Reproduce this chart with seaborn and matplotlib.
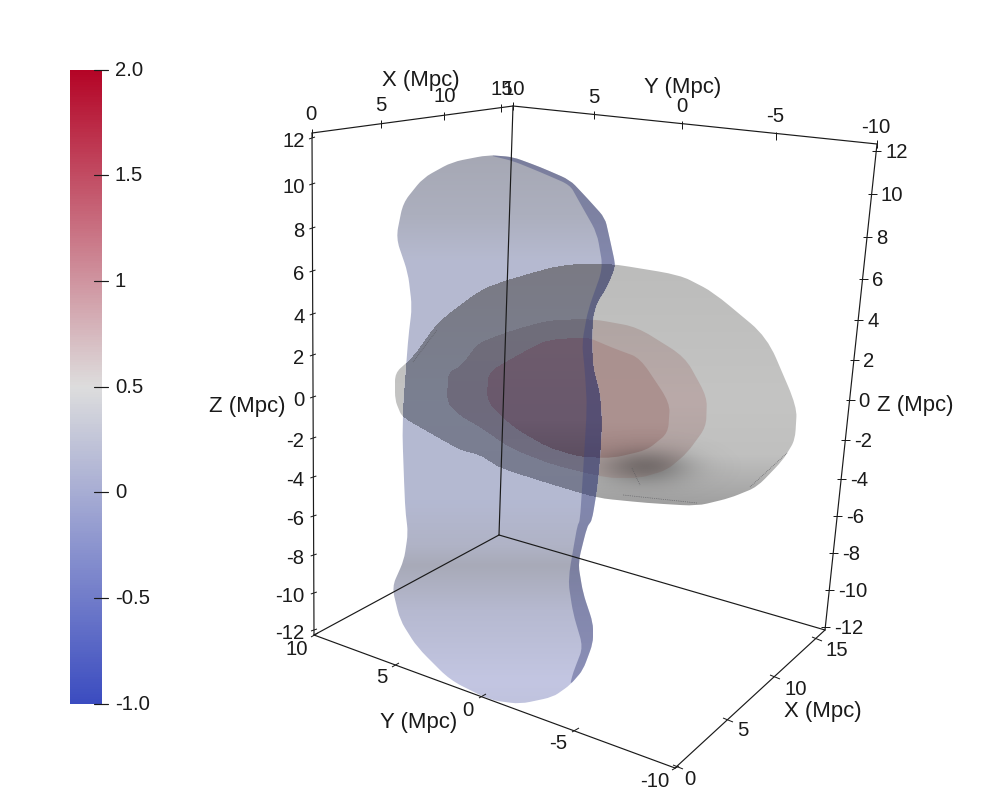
import numpy as np
import pandas as pd
import matplotlib
matplotlib.use("Agg")
import matplotlib.pyplot as plt
from matplotlib.colors import LinearSegmentedColormap
from matplotlib.patches import PathPatch
from matplotlib.path import Path
import seaborn as sns

W, H = 989, 793

# ---- data (pixel positions of the projected scene) ----
sheet_outline = [(488,155),(513,157),(540,167),(570,180),(587,198),(605,218),(610,240),(615,263),(614,270),(607,287),(597,303),(593,317),(592,340),(593,367),(600,393),(602,423),(600,460),(597,490),(592,520),(587,527),(578,563),(583,593),(593,623),(593,643),(583,670),(570,685),(553,697),(520,704),(490,700),(450,680),(417,647),(400,620),(392,587),(404,560),(408,533),(405,507),(402,423),(408,340),(412,307),(408,273),(396,238),(403,203),(423,178),(452,162)]
sheet_rim = [(488,155),(513,157),(540,167),(570,180),(587,198),(605,218),(610,240),(615,263),(614,270),(607,287),(597,303),(593,317),(592,340),(593,367),(600,393),(602,423),(600,460),(597,490),(592,520),(587,527),(578,563),(583,593),(593,623),(593,643),(583,670),(570,685),(573,673),(583,647),(573,613),(568,580),(577,527),(580,520),(583,473),(587,407),(585,373),(582,343),(588,310),(603,268),(597,233),(580,203),(570,185),(540,172),(513,161)]
blob_outer = [(395,373),(413,357),(438,322),(480,290),(507,280),(560,265),(607,263),(680,275),(713,292),(767,337),(797,407),(795,440),(783,460),(757,487),(730,498),(697,506),(647,503),(597,498),(547,483),(500,468),(480,455),(460,450),(430,433),(402,417),(395,400)]
blob_middle = [(448,373),(462,365),(478,343),(513,330),(550,320),(593,319),(637,327),(685,357),(707,397),(706,427),(687,453),(667,470),(640,478),(607,478),(553,465),(510,448),(480,427),(462,417),(447,403)]
blob_inner = [(488,372),(527,350),(547,340),(587,337),(613,348),(640,358),(670,403),(668,433),(647,450),(613,458),(580,457),(547,447),(513,427),(487,402)]
seam_lines = [[(413,362),(437,330)], [(623,495),(697,503)], [(750,487),(787,453)], [(632,468),(640,485)]]

box_edges = {
    "top_x": [(312,133),(513,106)], "top_y": [(513,106),(877,144)],
    "back": [(513,106),(499,535)], "left": [(312,133),(314,635)],
    "right": [(877,144),(825,630)], "floor_a": [(314,635),(499,535)],
    "floor_b": [(499,535),(825,630)], "front_y": [(314,635),(675,768)],
    "front_x": [(675,768),(825,630)],
}

top_x_labels = ["0", "5", "10", "15"]
top_x_ticks = [(312,133),(381,124),(444,116),(501,108)]
top_x_text = [(311,113),(381,104),(445,95),(502,88)]
top_y_labels = ["10", "5", "0", "-5", "-10"]
top_y_ticks = [(513,106),(594,115),(682,125),(776,136),(877,144)]
top_y_text = [(514,88),(594,96),(682,105),(775,115),(876,126)]

z_labels = ["12","10","8","6","4","2","0","-2","-4","-6","-8","-10","-12"]
z_left_y = [138,184,228,271,314,355,397,438,477,516,555,593,630]
z_right_y = [151,194,237,279,320,360,400,440,479,516,553,590,627]

bottom_y_labels = ["10", "5", "0", "-5", "-10"]
bottom_y_ticks = [(314,635),(395,665),(482,696),(575,730),(675,768)]
bottom_y_text = [(297,648),(382,676),(468,709),(558,742),(655,780)]
bottom_x_labels = ["0", "5", "10", "15"]
bottom_x_ticks = [(678,767),(728,720),(775,677),(817,639)]
bottom_x_text = [(690,778),(743,729),(796,688),(837,649)]

axis_titles = [("X (Mpc)",421,79),("Y (Mpc)",683,86),("Z (Mpc)",247,405),
               ("Z (Mpc)",915,404),("Y (Mpc)",419,721),("X (Mpc)",823,710)]

cbar_labels = ["2.0", "1.5", "1", "0.5", "0", "-0.5", "-1.0"]
cbar_y = [70, 175, 281, 387, 492, 598, 704]
cool_warm = [(59,76,192), (221,221,221), (180,4,38)]

# ---- look ----
sns.set_theme(style="white")
plt.rcParams["font.family"] = ["Liberation Sans", "DejaVu Sans"]
FS = 14.6
FS_TITLE = 15.9
INK = "#1a1a1a"
LW = 0.85
TEXT_DY = 1.5

fig = plt.figure(figsize=(W/100, H/100), dpi=100, facecolor="white")

# colour bar through seaborn's heatmap
cax = fig.add_axes([70/W, 1-704/H, 32/W, 634/H])
scale = np.linspace(2, -1, 256).reshape(-1, 1)
cmap = LinearSegmentedColormap.from_list("cw", [tuple(v/255 for v in c) for c in cool_warm])
sns.heatmap(scale, ax=cax, cmap=cmap, vmin=-1, vmax=2, cbar=False, xticklabels=False, yticklabels=False)

ax = fig.add_axes([0, 0, 1, 1])
ax.patch.set_alpha(0)
ax.axis("off")


def rgb(c):
    return tuple(v/255 for v in c)


def smooth(outline, t=0.3):
    """Closed outline with its corners rounded off, so surface edges stay close to the read points."""
    p = np.asarray(outline, float)
    prev, nxt = np.roll(p, 1, axis=0), np.roll(p, -1, axis=0)
    before = p - t*(p-prev)
    after = p + t*(nxt-p)
    verts = [after[-1]]
    codes = [Path.MOVETO]
    for i in range(len(p)):
        verts += [before[i], p[i], after[i]]
        codes += [Path.LINETO, Path.CURVE3, Path.CURVE3]
    return Path(np.array(verts), codes)


def clip_to(im, outline):
    im.set_clip_path(PathPatch(smooth(outline), transform=ax.transData))


def ramp(stops):
    ys, cols = zip(*stops)
    return np.stack([np.interp(np.arange(H), ys, [c[i] for c in cols]) for i in range(3)], axis=1)/255


def shaded(outline, stops, z):
    img = ramp(stops)[:, None, :]
    im = ax.imshow(img, extent=(0, W, H, 0), aspect="auto", zorder=z, interpolation="bilinear")
    clip_to(im, outline)


def soft_patch(outline, cx, cy, rx, ry, col, strength, z):
    yy, xx = np.mgrid[0:H:2, 0:W:2]
    a = strength*np.exp(-((xx-cx)/rx)**2-((yy-cy)/ry)**2)
    img = np.zeros(a.shape+(4,))
    img[..., :3] = rgb(col)
    img[..., 3] = a
    im = ax.imshow(img, extent=(0, W, H, 0), aspect="auto", zorder=z)
    clip_to(im, outline)


yy_px, xx_px = np.mgrid[0:H, 0:W]
pixels = np.c_[xx_px.ravel()+.5, yy_px.ravel()+.5]
sheet_mask = smooth(sheet_outline).contains_points(pixels).reshape(H, W)


def through(outline, stops, z):
    """A blob as it looks behind the sheet: cut to both outlines."""
    rgba = np.zeros((H, W, 4))
    rgba[..., :3] = ramp(stops)[:, None, :]
    rgba[..., 3] = smooth(outline).contains_points(pixels).reshape(H, W) & sheet_mask
    ax.imshow(rgba, extent=(0, W, H, 0), aspect="auto", zorder=z, interpolation="bilinear")


# blobs seen directly
shaded(blob_outer, [(263,(188,188,187)),(400,(196,196,195)),(455,(192,192,191)),(506,(158,158,158))], 1)
shaded(blob_middle, [(320,(176,165,163)),(400,(186,170,169)),(478,(172,160,158))], 2)
shaded(blob_inner, [(337,(170,145,143)),(420,(172,146,144)),(458,(160,132,130))], 3)
soft_patch(blob_outer, 645, 466, 44, 17, (50,48,48), 0.46, 3.5)

# sheet, opaque with its own shading
shaded(sheet_outline, [(155,(166,168,180)),(215,(172,175,190)),(260,(182,186,208)),(500,(180,185,210)),
                       (545,(176,179,198)),(565,(168,170,184)),(610,(182,185,208)),(680,(195,198,226)),(704,(192,195,222))], 4)

# blobs seen through the sheet
through(blob_outer, [(263,(122,122,132)),(400,(122,128,145)),(450,(122,126,146)),(500,(120,124,145))], 5)
through(blob_middle, [(320,(112,110,122)),(400,(110,106,124)),(478,(112,110,130))], 6)
through(blob_inner, [(337,(110,92,108)),(420,(105,88,108)),(458,(92,78,96))], 7)

# darker rim of the sheet
ax.add_patch(PathPatch(smooth(sheet_rim), facecolor=rgb((62,68,125)), alpha=0.42, edgecolor="none", zorder=8))

# faint seams in the surfaces
for seam in seam_lines:
    frame = pd.DataFrame(seam, columns=["x", "y"])
    sns.lineplot(data=frame, x="x", y="y", ax=ax, sort=False, estimator=None, color="#55555a", lw=0.5, ls=":", zorder=8.5)

# box edges and ticks
for name, pts in box_edges.items():
    frame = pd.DataFrame(pts, columns=["x", "y"])
    sns.lineplot(data=frame, x="x", y="y", ax=ax, sort=False, estimator=None, color=INK, lw=LW, zorder=9)


def tick(x0, y0, x1, y1):
    ax.plot([x0, x1], [y0, y1], color=INK, lw=LW*0.85, zorder=9, solid_capstyle="butt")


def put(x, y, lab, ha="center"):
    ax.text(x, y+TEXT_DY, lab, fontsize=FS, color=INK, ha=ha, va="center", zorder=10)


for labels, ticks, text in [(top_x_labels, top_x_ticks, top_x_text), (top_y_labels, top_y_ticks, top_y_text)]:
    for lab, (tx, ty), (lx, ly) in zip(labels, ticks, text):
        tick(tx, ty-4, tx, ty+4)
        put(lx, ly, lab)
for lab, (tx, ty), (lx, ly) in zip(bottom_y_labels, bottom_y_ticks, bottom_y_text):
    tick(tx-3, ty+2, tx+4, ty-2)
    put(lx, ly, lab)
for lab, (tx, ty), (lx, ly) in zip(bottom_x_labels, bottom_x_ticks, bottom_x_text):
    tick(tx-5, ty-2, tx+5, ty+2)
    put(lx, ly, lab)

for lab, yl, yr in zip(z_labels, z_left_y, z_right_y):
    xl = 312 + (yl-133)*2/502
    tick(xl-3, yl+1, xl+3, yl-1)
    put(304.5, yl+2, lab, ha="right")
    xr = 877 - (yr-144)*52/486
    tick(xr-4, yr, xr+5, yr)
    put(xr+9, yr, lab, ha="left")

for txt, x, y in axis_titles:
    ax.text(x, y+TEXT_DY, txt, fontsize=FS_TITLE, color=INK, ha="center", va="center", zorder=11)

for lab, y in zip(cbar_labels, cbar_y):
    ax.plot([94, 108], [y, y], color=INK, lw=LW, zorder=9)
    put(115, y-1, lab, ha="left")

ax.set_xlim(0, W)
ax.set_ylim(H, 0)
ax.set_xlabel("")
ax.set_ylabel("")
fig.savefig("out.png", dpi=100, facecolor="white")
